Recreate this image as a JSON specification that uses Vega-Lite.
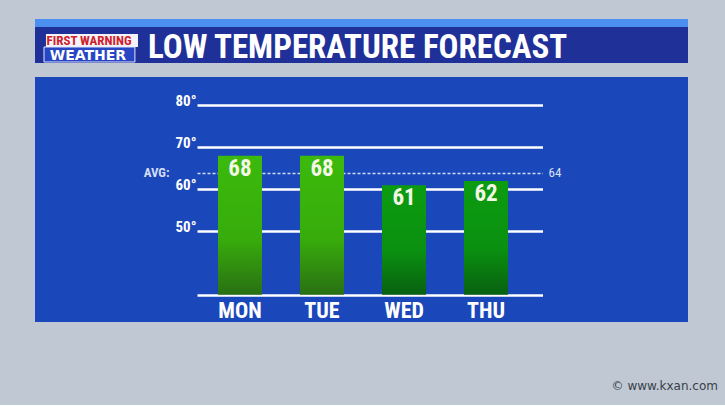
{
  "$schema": "https://vega.github.io/schema/vega-lite/v6.json",
  "background": "#bfc8d3",
  "padding": {"left": 35, "top": 19, "right": 7, "bottom": 13},
  "config": {
    "view": {"stroke": null},
    "font": "Roboto Condensed, Liberation Sans Narrow, Roboto, sans-serif"
  },
  "title": {
    "text": "© www.kxan.com",
    "orient": "bottom",
    "anchor": "end",
    "offset": 59,
    "dx": 30,
    "fontSize": 12,
    "fontWeight": "normal",
    "font": "DejaVu Sans",
    "color": "#3a3f48"
  },
  "spacing": 14,
  "bounds": "flush",
  "vconcat": [
    {
      "width": 653,
      "height": 44,
      "view": {"fill": "#1f3099", "stroke": null},
      "data": {"values": [{"line1": "FIRST WARNING", "line2": "WEATHER", "title": "LOW TEMPERATURE FORECAST"}]},
      "layer": [
        {
          "mark": {"type": "rect", "fill": "#4b90f0"},
          "encoding": {
            "x": {"datum": 0, "type": "quantitative", "scale": {"domain": [0, 1]}, "axis": null},
            "x2": {"datum": 1},
            "y": {"datum": 1, "type": "quantitative", "scale": {"domain": [0, 1]}, "axis": null},
            "y2": {"datum": 0.818}
          }
        },
        {
          "mark": {"type": "rect", "fill": "#f4f4f8"},
          "encoding": {
            "x": {"datum": 0.0168, "type": "quantitative", "scale": {"domain": [0, 1]}, "axis": null},
            "x2": {"datum": 0.1577},
            "y": {"datum": 0.659, "type": "quantitative", "scale": {"domain": [0, 1]}, "axis": null},
            "y2": {"datum": 0.364}
          }
        },
        {
          "mark": {"type": "rect", "fill": "#2846c4", "stroke": "#e0e6ff", "strokeWidth": 1},
          "encoding": {
            "x": {"datum": 0.0138, "type": "quantitative", "scale": {"domain": [0, 1]}, "axis": null},
            "x2": {"datum": 0.153},
            "y": {"datum": 0.364, "type": "quantitative", "scale": {"domain": [0, 1]}, "axis": null},
            "y2": {"datum": 0.023}
          }
        },
        {
          "mark": {"type": "text", "align": "center", "baseline": "alphabetic", "fontSize": 13, "fontWeight": "bold", "color": "#d0202c"},
          "encoding": {
            "x": {"datum": 0.0827, "type": "quantitative", "scale": {"domain": [0, 1]}, "axis": null},
            "y": {"datum": 0.405, "type": "quantitative", "scale": {"domain": [0, 1]}, "axis": null},
            "text": {"field": "line1"}
          }
        },
        {
          "mark": {"type": "text", "align": "center", "baseline": "alphabetic", "fontSize": 14, "fontWeight": "bold", "font": "DejaVu Sans", "color": "#ffffff"},
          "encoding": {
            "x": {"datum": 0.081, "type": "quantitative", "scale": {"domain": [0, 1]}, "axis": null},
            "y": {"datum": 0.068, "type": "quantitative", "scale": {"domain": [0, 1]}, "axis": null},
            "text": {"field": "line2"}
          }
        },
        {
          "mark": {"type": "text", "align": "center", "baseline": "alphabetic", "fontSize": 33, "fontWeight": "bold", "color": "#ffffff"},
          "encoding": {
            "x": {"datum": 0.494, "type": "quantitative", "scale": {"domain": [0, 1]}, "axis": null},
            "y": {"datum": 0.107, "type": "quantitative", "scale": {"domain": [0, 1]}, "axis": null},
            "text": {"field": "title"}
          }
        }
      ]
    },
    {
      "spacing": 0,
      "bounds": "flush",
      "hconcat": [
        {
          "width": 162,
          "height": 245,
          "view": {"fill": "#1a47ba", "stroke": null},
          "data": {"values": [{}]},
          "mark": {"type": "text", "text": ""}
        },
        {
          "width": 346,
          "height": 245,
          "view": {"fill": "#1a47ba", "stroke": null},
          "data": {"values": [
            {"day": "MON", "low": 68},
            {"day": "TUE", "low": 68},
            {"day": "WED", "low": 61},
            {"day": "THU", "low": 62}
          ]},
          "encoding": {
            "x": {
              "field": "day",
              "type": "nominal",
              "sort": null,
              "scale": {"paddingInner": 0.463, "paddingOuter": 0.341, "align": 0.375},
              "axis": {
                "orient": "bottom",
                "offset": -27,
                "title": null,
                "domain": true,
                "domainColor": "#ffffff",
                "domainWidth": 2.5,
                "ticks": false,
                "labelPadding": 5,
                "labelFontSize": 22,
                "labelFontWeight": "bold",
                "labelColor": "#ffffff",
                "labelBaseline": "top",
                "labelAngle": 0
              }
            }
          },
          "layer": [
            {
              "mark": {"type": "bar"},
              "encoding": {
                "y": {
                  "field": "low",
                  "type": "quantitative",
                  "scale": {"domain": [28.5, 86.7], "nice": false, "zero": false},
                  "axis": {
                    "values": [50, 60, 70, 80, 64],
                    "title": null,
                    "domain": false,
                    "ticks": false,
                    "grid": true,
                    "labelOverlap": false,
                    "labelFlush": false,
                    "gridColor": {"condition": {"test": "datum.value == 64", "value": "#d0dcf8"}, "value": "#ffffff"},
                    "gridWidth": {"condition": {"test": "datum.value == 64", "value": 1.5}, "value": 2.5},
                    "gridDash": {"condition": {"test": "datum.value == 64", "value": [3, 2]}, "value": []},
                    "labelExpr": "datum.value == 64 ? 'AVG:' : datum.value + '°'",
                    "labelPadding": {"condition": {"test": "datum.value == 64", "value": 28}, "value": 1},
                    "labelBaseline": {"condition": {"test": "datum.value == 64", "value": "middle"}, "value": "alphabetic"},
                    "labelFontSize": {"condition": {"test": "datum.value == 64", "value": 13}, "value": 15},
                    "labelColor": {"condition": {"test": "datum.value == 64", "value": "#d4def6"}, "value": "#ffffff"},
                    "labelFontWeight": "bold"
                  }
                },
                "y2": {"datum": 35},
                "fill": {
                  "condition": {
                    "test": "datum.low > 64",
                    "value": {"gradient": "linear", "x1": 0, "y1": 0, "x2": 0, "y2": 1, "stops": [
                      {"offset": 0, "color": "#3cba0c"},
                      {"offset": 0.6, "color": "#37ac0b"},
                      {"offset": 1, "color": "#2a7014"}
                    ]}
                  },
                  "value": {"gradient": "linear", "x1": 0, "y1": 0, "x2": 0, "y2": 1, "stops": [
                    {"offset": 0, "color": "#0c9c10"},
                    {"offset": 0.6, "color": "#0a9010"},
                    {"offset": 1, "color": "#086010"}
                  ]}
                }
              }
            },
            {
              "mark": {"type": "text", "baseline": "top", "dy": 2, "fontSize": 23, "fontWeight": "bold", "color": "#f3f7e6"},
              "encoding": {
                "y": {"field": "low", "type": "quantitative"},
                "text": {"field": "low", "type": "quantitative"}
              }
            }
          ]
        },
        {
          "width": 145,
          "height": 245,
          "view": {"fill": "#1a47ba", "stroke": null},
          "data": {"values": [{"avg": 64}]},
          "mark": {"type": "text", "text": ""},
          "encoding": {
            "y": {
              "field": "avg",
              "type": "quantitative",
              "scale": {"domain": [28.5, 86.7], "nice": false, "zero": false},
              "axis": {
                "values": [64],
                "orient": "left",
                "title": null,
                "domain": false,
                "ticks": false,
                "grid": false,
                "labelAlign": "left",
                "labelPadding": -5,
                "labelBaseline": "middle",
                "labelFontSize": 13,
                "labelColor": "#dbe3f8",
                "labelFontWeight": "normal",
                "labelFlush": false
              }
            }
          }
        }
      ]
    }
  ]
}
